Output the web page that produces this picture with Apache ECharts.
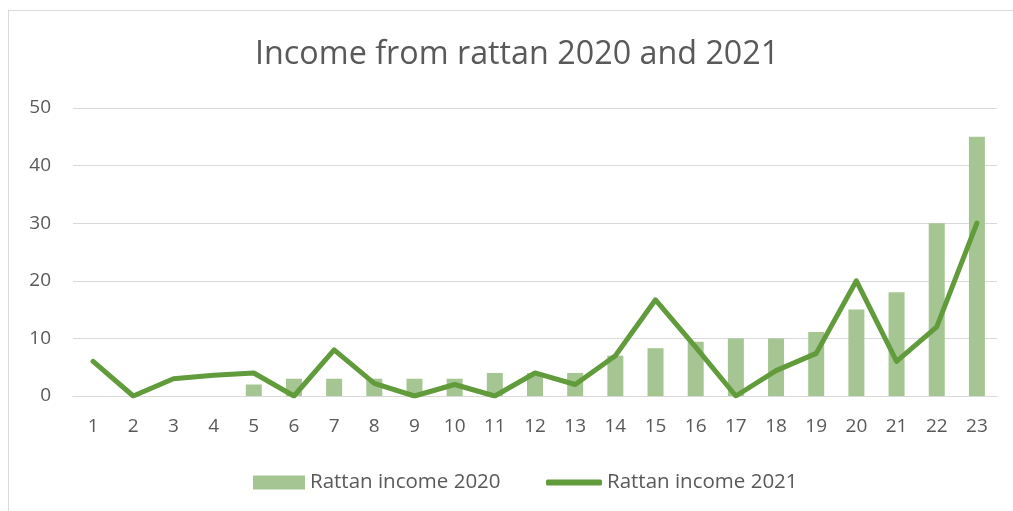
<!DOCTYPE html>
<html>
<head>
<meta charset="utf-8">
<script src="https://cdn.jsdelivr.net/npm/echarts@6/dist/echarts.min.js"></script>
<style>
  html, body { margin: 0; padding: 0; background: #ffffff; }
  #frame { position: absolute; left: 8px; top: 10px; width: 1020px; height: 520px; border: 1px solid #d9d9d9; box-sizing: border-box; }
  #chart { position: absolute; left: 0; top: 0; width: 1013px; height: 511px; }
</style>
</head>
<body>
<div id="frame"></div>
<div id="chart"></div>
<script>
const titleText = 'Income from rattan 2020 and 2021';
const categories = ['1','2','3','4','5','6','7','8','9','10','11','12','13','14','15','16','17','18','19','20','21','22','23'];
const income2020 = [0, 0, 0, 0, 2, 3, 3, 3, 3, 3, 4, 4, 4, 7, 8.3, 9.4, 10, 10, 11.1, 15, 18, 30, 45];
const income2021 = [6, 0, 3, 3.6, 4, 0, 8, 2.2, 0, 2, 0, 4, 2, 7, 16.7, 8.5, 0, 4.4, 7.4, 20, 6, 12, 30];
const seriesNames = ['Rattan income 2020', 'Rattan income 2021'];

const textColor = '#595959';
const barColor = '#a5c692';
const lineColor = '#629b3b';
const fontFamily = '"Open Sans", "Noto Sans", sans-serif';
const legendText = { color: textColor, fontFamily: fontFamily, fontSize: 20.5 };

const chart = echarts.init(document.getElementById('chart'), null, { renderer: 'canvas' });
chart.setOption({
  backgroundColor: 'transparent',
  animation: false,
  title: {
    text: titleText,
    left: 250,
    top: 34,
    textStyle: { color: textColor, fontFamily: fontFamily, fontSize: 32.3, fontWeight: 'normal' }
  },
  // one legend per series so each key can have its own shape
  legend: [
    {
      left: 248,
      top: 467,
      itemWidth: 52,
      itemHeight: 14,
      itemGap: 6,
      textStyle: legendText,
      data: [{ name: seriesNames[0], icon: 'rect' }]
    },
    {
      left: 541,
      top: 467,
      itemWidth: 56,
      itemHeight: 6,
      itemGap: 5,
      textStyle: legendText,
      data: [{ name: seriesNames[1], icon: 'roundRect', itemStyle: { color: lineColor } }]
    }
  ],
  grid: { left: 73, right: 16, top: 108, bottom: 115, containLabel: false },
  xAxis: {
    type: 'category',
    data: categories,
    axisLine: { lineStyle: { color: '#d9d9d9', width: 1 } },
    axisTick: { show: false },
    axisLabel: { color: textColor, fontFamily: fontFamily, fontSize: 19, margin: 21 }
  },
  yAxis: {
    type: 'value',
    min: 0,
    max: 50,
    interval: 10,
    axisLine: { show: false },
    axisTick: { show: false },
    axisLabel: { color: textColor, fontFamily: fontFamily, fontSize: 19, margin: 22 },
    splitLine: { lineStyle: { color: '#d9d9d9', width: 1 } }
  },
  series: [
    {
      name: seriesNames[0],
      type: 'bar',
      data: income2020,
      barWidth: 16,
      itemStyle: { color: barColor }
    },
    {
      name: seriesNames[1],
      type: 'line',
      data: income2021,
      symbol: 'none',
      showSymbol: false,
      lineStyle: { color: lineColor, width: 5, cap: 'round', join: 'round' },
      itemStyle: { color: lineColor }
    }
  ]
});
</script>
</body>
</html>
